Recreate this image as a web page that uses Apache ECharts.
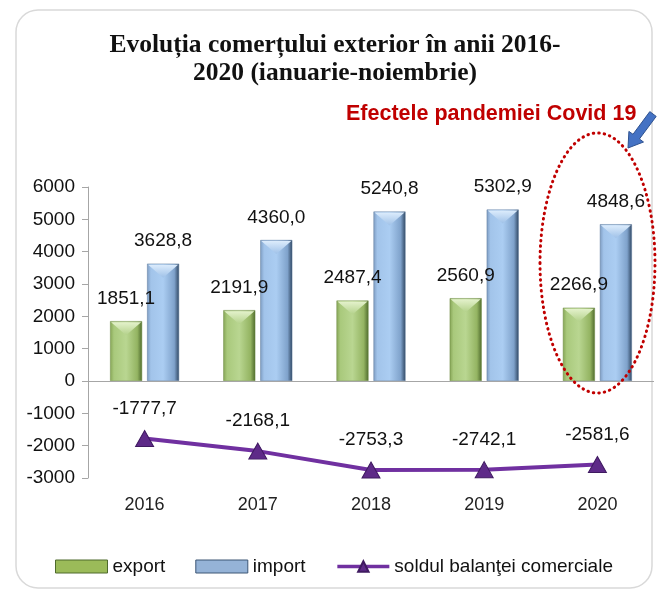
<!DOCTYPE html>
<html><head><meta charset="utf-8">
<script src="https://cdn.jsdelivr.net/npm/echarts@6/dist/echarts.min.js"></script>
<style>html,body{margin:0;padding:0;background:#fff}#c{width:659px;height:594px}</style>
</head><body><div id="c"></div>
<script>
const years = ['2016','2017','2018','2019','2020'];
const exportVals = [1851.1, 2191.9, 2487.4, 2560.9, 2266.9];
const importVals = [3628.8, 4360.0, 5240.8, 5302.9, 4848.6];
const balanceVals = [-1777.7, -2168.1, -2753.3, -2742.1, -2581.6];
const yTicks = {min: -3000, max: 6000, interval: 1000};
const titleLines = ['Evoluția comerțului exterior în anii 2016-', '2020 (ianuarie-noiembrie)'];
const noteText = 'Efectele pandemiei Covid 19';

const FONT = '"Liberation Sans", Arial, sans-serif';
const BAR_W = 32, BAR_GAP = 5;
const fmt = v => Number(v).toFixed(1).replace('.', ',');
const grad = (stops) => new echarts.graphic.LinearGradient(0,0,1,0, stops.map(c=>({offset:c[0],color:c[1]})));
const greenFill = grad([[0,'#86a556'],[0.12,'#a9c97c'],[0.5,'#b9d691'],[0.85,'#94b462'],[1,'#4e6a2c']]);
const blueFill = grad([[0,'#7e9cc2'],[0.12,'#a2c4ea'],[0.5,'#abcdf2'],[0.85,'#7fa2cb'],[1,'#2f4661']]);

function bevel(offsetSign, light, mid) {
  return function (params, api) {
    const p = api.coord([api.value(0), api.value(1)]);
    const cx = p[0] + offsetSign * (BAR_W + BAR_GAP) / 2;
    const y = p[1];
    const h = 14;
    return {
      type: 'polygon',
      shape: {points: [[cx - BAR_W/2 + 1, y + 1], [cx + BAR_W/2 - 1, y + 1], [cx, y + h]]},
      style: {fill: new echarts.graphic.LinearGradient(0,0,0,1,[{offset:0,color:light},{offset:1,color:mid}])},
      silent: true
    };
  };
}

const chart = echarts.init(document.getElementById('c'), null, {renderer:'canvas'});
chart.setOption({
  animation: false,
  grid: {left: 88, right: 5, top: 187, bottom: 116},
  xAxis: {
    type: 'category', data: years,
    axisLine: {show: false}, axisTick: {show: false},
    axisLabel: {color: '#222', fontSize: 18, fontFamily: FONT, margin: 18}
  },
  yAxis: {
    type: 'value', min: yTicks.min, max: yTicks.max, interval: yTicks.interval,
    axisLine: {show: true, lineStyle: {color: '#a6a6a6', width: 1}},
    axisTick: {show: true, length: 6, lineStyle: {color: '#a6a6a6'}},
    splitLine: {show: false},
    axisLabel: {color: '#111', fontSize: 19, fontFamily: FONT, margin: 13, formatter: v => String(v)}
  },
  legend: {
    left: 50, top: 552, itemGap: 30, itemWidth: 52, itemHeight: 13,
    textStyle: {fontSize: 19, fontFamily: FONT, color: '#111'},
    data: [
      {name: 'export', icon: 'rect', itemStyle: {color: '#9bbb59', borderColor: '#4e6a2c', borderWidth: 1}},
      {name: 'import', icon: 'rect', itemStyle: {color: '#95b3d7', borderColor: '#3d5675', borderWidth: 1}},
      {name: 'soldul balanţei comerciale', lineStyle: {width: 3.5, color: '#7030a0'}}
    ]
  },
  series: [
    {
      name: 'export', type: 'bar', data: exportVals, barWidth: BAR_W, barGap: (BAR_GAP / BAR_W * 100) + '%',
      itemStyle: {color: greenFill, borderColor: '#6d8a42', borderWidth: 0.5},
      label: {show: true, position: 'top', distance: 13, formatter: p => fmt(p.value), fontSize: 19, fontFamily: FONT, color: '#111'},
      markLine: {silent: true, symbol: 'none', label: {show: false}, lineStyle: {color: '#a6a6a6', width: 1, type: 'solid'}, data: [{yAxis: 0}]}
    },
    {
      name: 'import', type: 'bar', data: importVals, barWidth: BAR_W,
      itemStyle: {color: blueFill, borderColor: '#5d7a9c', borderWidth: 0.5},
      label: {show: true, position: 'top', distance: 13, formatter: p => fmt(p.value), fontSize: 19, fontFamily: FONT, color: '#111'}
    },
    {
      name: 'exportBevel', type: 'custom', data: exportVals.map((v, i) => [i, v]),
      renderItem: bevel(-1, '#e4f2cc', '#b3d18a'), z: 3, tooltip: {show: false}
    },
    {
      name: 'importBevel', type: 'custom', data: importVals.map((v, i) => [i, v]),
      renderItem: bevel(1, '#dcecfc', '#9fc1e8'), z: 3, tooltip: {show: false}
    },
    {
      name: 'soldul balanţei comerciale', type: 'line', data: balanceVals,
      symbol: 'triangle', symbolSize: [18, 16],
      lineStyle: {color: '#7030a0', width: 4},
      itemStyle: {color: '#5e2a88', borderColor: '#3f1a60', borderWidth: 1},
      label: {show: true, position: 'top', distance: 12, formatter: p => fmt(p.value), fontSize: 19, fontFamily: FONT, color: '#111'},
      z: 5
    }
  ],
  graphic: [
    {type: 'rect', shape: {x: 16, y: 10, width: 636, height: 578, r: 22}, style: {fill: 'none', stroke: '#d9d9d9', lineWidth: 1.5}, silent: true, z: -10},
    {type: 'text', style: {text: titleLines[0], x: 335, y: 45, textAlign: 'center', textVerticalAlign: 'middle', font: 'bold 25.5px "Liberation Serif", serif', fill: '#111'}},
    {type: 'text', style: {text: titleLines[1], x: 335, y: 73, textAlign: 'center', textVerticalAlign: 'middle', font: 'bold 25.5px "Liberation Serif", serif', fill: '#111'}},
    {type: 'text', style: {text: noteText, x: 346, y: 114, textAlign: 'left', textVerticalAlign: 'middle', font: 'bold 21.5px "Liberation Sans", Arial, sans-serif', fill: '#c00000', shadowColor: 'rgba(0,0,0,0.25)', shadowOffsetX: 1, shadowOffsetY: 1, shadowBlur: 1}},
    {type: 'ellipse', shape: {cx: 597.5, cy: 263, rx: 57.5, ry: 130}, style: {fill: 'none', stroke: '#c00000', lineWidth: 3, lineDash: [0.5, 5], lineCap: 'round'}, silent: true, z: 20},
    {type: 'polygon', shape: {points: [[656.2,116.4],[639.4,139.0],[643.5,142.0],[628,148],[628.9,131.4],[633.0,134.3],[649.8,111.6]]}, style: {fill: '#4472c4', stroke: '#2f528f', lineWidth: 1}, z: 20}
  ]
});
</script></body></html>
